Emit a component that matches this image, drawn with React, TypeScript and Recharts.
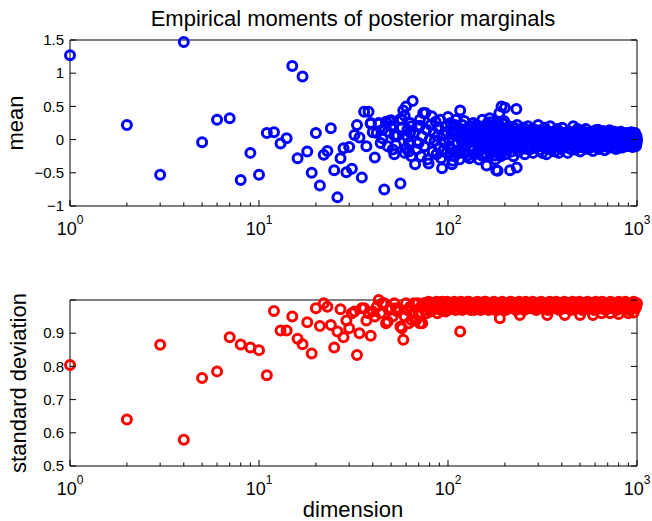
import React from "react";
import { ScatterChart, Scatter, XAxis, YAxis } from "recharts";

const FONT = "'Liberation Sans', Arial, sans-serif";
const BLUE = "#0000ff";
const RED = "#ff0000";

// x tick positions (log axis, majors + minors)
const xTicks = [
  1, 2, 3, 4, 5, 6, 7, 8, 9, 10, 20, 30, 40, 50, 60, 70, 80, 90, 100, 200, 300,
  400, 500, 600, 700, 800, 900, 1000,
];
const meanTicks = [-1, -0.5, 0, 0.5, 1, 1.5];
const sdTicks = [0.5, 0.6, 0.7, 0.8, 0.9, 1.0];

// [dimension, mean] — sparse low dims
const meanSparse: [number, number][] = [
  [1, 1.27], [2, 0.22], [3, -0.53], [4, 1.47], [5, -0.04], [6, 0.3], [7, 0.32],
  [8, -0.61], [9, -0.2], [10, -0.53], [11, 0.1], [12, 0.11], [13, -0.06], [14, 0.02],
  [15, 1.11], [16, -0.28], [17, 0.95], [18, -0.18], [19, -0.5], [20, 0.1], [21, -0.69],
  [22, -0.23], [23, -0.17], [24, 0.17], [25, -0.46], [26, -0.87], [27, -0.28],
  [28, -0.13], [29, -0.49], [30, -0.11], [31, -0.44], [32, 0.07], [33, 0.22], [34, 0.03],
  [35, -0.57], [36, 0.42], [37, -0.1], [38, 0.42], [39, 0.25], [40, 0.11], [41, -0.27],
  [42, 0.1], [43, 0.25], [44, -0.05], [45, 0.15], [46, -0.75], [47, 0.27], [48, -0.1],
  [49, 0.28], [50, 0.2], [51, -0.15], [52, -0.22], [53, 0.05], [54, 0.06], [56, -0.66],
  [57, 0.3], [58, 0.44], [59, -0.2], [60, 0.5], [61, 0.15], [62, -0.05], [63, 0.25],
  [64, -0.25], [65, 0.58],
];

// dense cloud, higher dims (estimated)
const meanCloud: [number, number][] = [
  [39, 0.24], [43, 0.24], [47, 0.26], [50, 0.29], [56, 0.31], [59, 0.36], [52, 0.06],
  [63, 0.11], [71, 0.21], [63, -0.07], [60, -0.13], [45, 0.02], [48, 0.12], [53, -0.08],
  [57, 0.18], [61, 0.04], [64, 0.2], [62, -0.18],
  [66, 0.1], [67, -0.37], [68, -0.15], [69, 0.2], [70, -0.05], [71, 0.3], [72, -0.25],
  [73, 0.05], [74, 0.4], [75, -0.1], [76, 0.4], [77, 0.15], [78, -0.3], [79, -0.36],
  [80, 0.0], [81, 0.22], [82, 0.35], [83, -0.18], [84, 0.1], [85, -0.02], [86, 0.27],
  [87, -0.22], [88, 0.05], [89, 0.18], [90, -0.12], [91, 0.3], [92, -0.28], [93, -0.43],
  [94, 0.08], [95, -0.15], [96, -0.05], [97, 0.2], [98, -0.2], [99, 0.12], [100, 0.34],
  [101, 0.0], [102, -0.1], [103, 0.25], [104, -0.15], [105, -0.37], [106, -0.32],
  [107, 0.1], [108, -0.25], [109, 0.15], [110, 0.3], [111, -0.18], [112, -0.05],
  [113, 0.18], [114, 0.04], [115, -0.3], [116, 0.44], [117, 0.05], [118, -0.12],
  [119, 0.22], [120, -0.12], [121, 0.1], [122, 0.28], [123, -0.06], [124, -0.2],
  [125, 0.16], [126, 0.02], [127, -0.24], [128, 0.15], [130, -0.28], [131, 0.2],
  [132, 0.08], [133, -0.14], [134, -0.1], [135, 0.0], [136, 0.25], [137, 0.12],
  [138, -0.22], [139, -0.04], [140, 0.12], [141, 0.22], [142, -0.02], [143, -0.18],
  [144, 0.2], [145, 0.06], [146, -0.3], [147, -0.1], [148, 0.05], [149, 0.16],
  [150, -0.15], [151, -0.24], [152, 0.3], [154, 0.1], [155, -0.08], [156, -0.2],
  [157, 0.18], [158, 0.02], [159, -0.25], [160, -0.39], [161, 0.24], [162, 0.1],
  [163, -0.04], [164, -0.12], [165, 0.14], [166, 0.32], [167, 0.26], [168, -0.18],
  [170, -0.2], [171, 0.06], [172, 0.0], [174, -0.1], [175, 0.15], [176, 0.2],
  [177, -0.24], [178, -0.3], [179, 0.1], [180, -0.46], [181, 0.08], [182, -0.14],
  [183, -0.47], [184, -0.05], [185, 0.18], [186, 0.22], [187, 0.4], [188, -0.2],
  [189, -0.18], [190, 0.04], [191, 0.14], [192, 0.5], [193, -0.08], [194, 0.12],
  [195, -0.1], [196, 0.24], [197, 0.0], [198, 0.28], [199, -0.16], [200, 0.48],
  [201, -0.22], [203, 0.05], [205, 0.16], [206, -0.15], [208, -0.02], [210, 0.2],
  [212, 0.08], [213, -0.46], [215, -0.05], [217, -0.18], [218, 0.12], [220, 0.02],
  [222, -0.25], [224, 0.18], [226, 0.0], [228, -0.1], [230, 0.46], [231, -0.42],
  [232, 0.22], [234, 0.06], [236, -0.18], [238, 0.14], [240, 0.1], [242, -0.12],
  [245, -0.08], [247, 0.04], [250, 0.18], [252, -0.02], [255, -0.22], [257, 0.12],
  [260, 0.03], [262, -0.14], [265, 0.2], [268, 0.08], [270, -0.12], [273, -0.03],
  [276, 0.08], [279, 0.16], [282, -0.2], [285, 0.0], [288, 0.15], [291, -0.1],
  [294, -0.02], [297, 0.1], [300, 0.22], [303, -0.04], [306, -0.16], [309, 0.14],
  [312, 0.06], [315, -0.2], [318, -0.1], [321, 0.02], [325, 0.18], [328, 0.1],
  [332, -0.22], [336, -0.06], [340, 0.0], [344, 0.12], [347, 0.2], [351, -0.02],
  [355, -0.14], [358, 0.06], [362, 0.1], [366, -0.18], [370, -0.05], [374, 0.04],
  [378, 0.16], [382, -0.08], [386, -0.2], [390, 0.12], [394, 0.04], [398, -0.12],
  [402, 0.18], [406, -0.02], [410, -0.12], [415, 0.1], [420, 0.06], [425, -0.08],
  [430, -0.2], [435, 0.02], [440, 0.12], [445, -0.14], [450, -0.04], [455, 0.08],
  [460, 0.2], [465, -0.1], [470, -0.15], [475, 0.04], [480, 0.02], [485, 0.16],
  [490, 0.14], [495, -0.06], [500, -0.18], [506, 0.1], [512, 0.08], [518, -0.12],
  [524, -0.06], [530, 0.04], [536, 0.16], [542, -0.02], [548, -0.14], [554, 0.08],
  [560, 0.0], [566, -0.08], [572, 0.12], [578, 0.04], [585, -0.17], [591, -0.04],
  [598, 0.05], [604, 0.14], [610, -0.08], [616, 0.02], [622, 0.15], [628, -0.14],
  [635, -0.12], [641, 0.06], [648, 0.02], [654, -0.06], [660, 0.13], [667, 0.0],
  [674, -0.16], [681, -0.04], [688, 0.07], [695, 0.12], [702, -0.05], [709, -0.12],
  [716, 0.14], [723, 0.02], [730, -0.12], [737, 0.08], [745, 0.0], [752, -0.08],
  [760, 0.12], [767, 0.04], [775, -0.14], [782, -0.02], [790, 0.05], [797, 0.1],
  [805, -0.06], [812, -0.12], [820, 0.12], [828, 0.0], [836, -0.12], [844, 0.06],
  [852, 0.02], [860, -0.06], [868, 0.1], [876, 0.04], [884, -0.1], [892, -0.02],
  [900, 0.06], [908, 0.1], [916, -0.04], [924, -0.1], [932, 0.11], [940, 0.0],
  [948, -0.11], [956, 0.06], [964, 0.03], [972, -0.05], [980, 0.08], [985, -0.1],
  [990, -0.08], [995, 0.05], [1000, 0.0],
];

// extra points inside the band
const meanFill: [number, number][] = [
  [105, 0.08], [111, 0.12], [118, -0.02], [125, -0.08], [129, 0.0], [137, -0.15],
  [145, -0.05], [153, 0.0], [162, -0.06], [169, 0.08], [177, 0.0], [185, 0.08],
  [194, -0.04], [204, 0.0], [211, -0.08], [219, 0.06], [227, 0.1], [235, -0.06],
  [244, 0.0], [253, 0.08], [263, -0.06], [272, 0.12], [281, 0.0], [292, 0.04],
  [302, -0.1], [313, 0.0], [323, -0.05], [334, 0.06], [345, -0.1], [357, 0.0],
  [368, 0.08], [380, -0.02], [392, -0.06], [404, 0.04], [417, -0.04], [428, 0.0],
  [442, 0.06], [457, -0.08], [472, 0.08], [487, -0.02], [503, 0.02], [520, -0.1],
  [538, 0.08], [555, -0.04], [575, 0.0], [594, 0.08], [613, -0.02], [632, 0.06],
  [652, -0.1], [672, 0.04], [692, -0.08], [713, 0.04], [735, -0.04], [757, 0.06],
  [780, 0.0], [803, -0.04], [826, 0.06], [850, -0.08], [875, -0.02], [898, 0.0],
  [920, 0.02], [945, 0.06], [968, -0.06], [992, 0.02],
  [103, -0.2], [109, 0.22], [116, -0.2], [123, 0.15], [131, 0.1], [138, 0.06],
  [146, 0.2], [154, -0.25], [161, 0.02], [169, -0.1], [176, -0.14], [183, 0.25],
  [190, -0.25], [197, 0.16],
  [207, 0.12], [214, -0.12], [221, 0.04], [229, -0.03], [237, 0.14], [246, -0.12],
  [256, 0.04], [266, -0.02], [274, -0.14], [284, 0.12], [296, 0.03], [307, -0.05],
  [317, 0.12], [330, 0.02], [338, -0.14], [349, 0.08], [361, -0.03], [373, 0.12],
  [384, 0.02], [396, -0.14], [408, 0.1], [419, -0.08], [432, 0.12], [447, 0.02],
  [462, -0.12], [478, 0.1], [492, 0.04], [508, -0.04], [523, 0.12], [540, -0.1],
  [557, 0.1], [568, -0.12], [582, 0.06], [600, -0.1], [618, 0.1], [638, -0.04],
  [657, 0.08], [677, -0.1], [698, 0.1], [719, -0.02], [741, -0.1], [763, 0.08],
  [786, -0.08], [808, 0.02], [832, 0.08], [856, -0.04], [880, 0.06], [904, -0.08],
  [928, 0.04], [952, -0.02], [976, 0.1], [997, -0.04],
];

// [dimension, standard deviation]
const sdSparse: [number, number][] = [
  [1, 0.804], [2, 0.64], [3, 0.865], [4, 0.579], [5, 0.765], [6, 0.785], [7, 0.888],
  [8, 0.866], [9, 0.857], [10, 0.849], [11, 0.773], [12, 0.967], [13, 0.908],
  [14, 0.908], [15, 0.95], [16, 0.883], [17, 0.867], [18, 0.933], [19, 0.839],
  [20, 0.975], [21, 0.922], [22, 0.99], [23, 0.98], [24, 0.925], [25, 0.857],
  [26, 0.905], [27, 0.972], [28, 0.888], [29, 0.938], [30, 0.915], [31, 0.96],
  [32, 0.965], [33, 0.834], [34, 0.9], [35, 0.975], [36, 0.975], [37, 0.938],
  [38, 0.96], [39, 0.892], [40, 0.965], [43, 1.0], [45, 0.99], [48, 0.935], [50, 0.975],
  [54, 0.965], [56, 0.92], [58, 0.88], [64, 0.94], [71, 0.93], [116, 0.905], [188, 0.945],
];

const sdCloud: [number, number][] = [
  [41, 0.95], [42, 0.98], [44, 0.96], [46, 0.99], [47, 0.93], [49, 0.97], [51, 0.95],
  [52, 0.99], [53, 0.975], [55, 0.97], [57, 0.915], [59, 0.95], [60, 0.99], [61, 0.97],
  [62, 0.93], [63, 0.98], [65, 0.96], [66, 0.99], [67, 0.94], [68, 0.94], [69, 0.99],
  [70, 0.96], [72, 0.98], [73, 0.93], [74, 0.99], [75, 0.97], [76, 0.99], [77, 0.96],
  [78, 0.98], [79, 0.995], [80, 0.99], [81, 0.965], [82, 0.97], [83, 0.985], [84, 0.99],
  [85, 0.975], [86, 0.98], [87, 0.995], [88, 0.96], [89, 0.98], [90, 0.99], [91, 0.97],
  [92, 0.98], [93, 0.995], [94, 0.97], [95, 0.985], [96, 0.99], [97, 0.965], [98, 0.98],
  [99, 0.995], [100, 0.97],
  [102, 0.99], [104, 0.975], [106, 0.98], [108, 0.995], [110, 0.97], [112, 0.99],
  [114, 0.98], [117, 0.995], [119, 0.97], [121, 0.985], [124, 0.99], [126, 0.975],
  [129, 0.995], [131, 0.98], [134, 0.99], [137, 0.97], [140, 0.985], [143, 0.995],
  [146, 0.98], [149, 0.97], [152, 0.99], [155, 0.975], [158, 0.995], [161, 0.985],
  [164, 0.97], [168, 0.99], [171, 0.98], [175, 0.995], [178, 0.97], [182, 0.985],
  [186, 0.99], [190, 0.975], [194, 0.995], [198, 0.98], [202, 0.97], [206, 0.99],
  [210, 0.985], [215, 0.995], [219, 0.975], [224, 0.99], [229, 0.97], [234, 0.985],
  [238, 0.995], [243, 0.98], [248, 0.99], [253, 0.97], [258, 0.995], [264, 0.98],
  [270, 0.99], [275, 0.975], [281, 0.995], [287, 0.985], [293, 0.97], [299, 0.99],
  [305, 0.98], [311, 0.995], [318, 0.975], [324, 0.99], [331, 0.985], [338, 0.97],
  [345, 0.995], [352, 0.98], [359, 0.99], [366, 0.975], [374, 0.995], [381, 0.985],
  [389, 0.97], [397, 0.99], [405, 0.98], [413, 0.995], [422, 0.975], [430, 0.99],
  [439, 0.985], [448, 0.97], [457, 0.995], [466, 0.98], [476, 0.99], [485, 0.975],
  [495, 0.995], [505, 0.985], [515, 0.97], [526, 0.99], [536, 0.98], [547, 0.995],
  [558, 0.975], [570, 0.99], [581, 0.985], [593, 0.97], [605, 0.995], [617, 0.98],
  [630, 0.99], [642, 0.975], [655, 0.995], [669, 0.985], [682, 0.97], [696, 0.99],
  [710, 0.98], [725, 0.995], [739, 0.975], [754, 0.99], [770, 0.985], [785, 0.97],
  [801, 0.995], [818, 0.98], [834, 0.99], [851, 0.975], [868, 0.995], [886, 0.985],
  [904, 0.97], [922, 0.99], [941, 0.98], [960, 0.995], [980, 0.975], [1000, 0.99],
  [240, 0.955], [335, 0.955], [415, 0.955], [500, 0.955], [585, 0.955], [650, 0.96],
  [720, 0.96], [800, 0.958], [900, 0.96], [960, 0.962],
];

const sdFill: [number, number][] = [
  [101, 0.985], [107, 0.99], [113, 0.985], [118, 0.98], [123, 0.975], [128, 0.985],
  [133, 0.98], [139, 0.99], [145, 0.975], [151, 0.985], [157, 0.98], [163, 0.99],
  [170, 0.985], [177, 0.98], [184, 0.975], [192, 0.985], [200, 0.99], [208, 0.975],
  [217, 0.98], [226, 0.975], [236, 0.975], [246, 0.985], [256, 0.98], [267, 0.985],
  [278, 0.99], [290, 0.98], [302, 0.975], [315, 0.985], [328, 0.975], [342, 0.985],
  [356, 0.975], [370, 0.985], [386, 0.98], [402, 0.975], [418, 0.985], [435, 0.98],
  [453, 0.985], [472, 0.975], [490, 0.985], [510, 0.98], [531, 0.975], [552, 0.985],
  [575, 0.98], [598, 0.985], [622, 0.975], [648, 0.985], [675, 0.98], [702, 0.975],
  [731, 0.985], [761, 0.98], [792, 0.985], [825, 0.975], [858, 0.98], [893, 0.975],
  [930, 0.985], [968, 0.98],
  [104, 0.99], [110, 0.98], [116, 0.99], [122, 0.98], [127, 0.995], [132, 0.97],
  [138, 0.985], [144, 0.99], [150, 0.98], [156, 0.995], [162, 0.975], [168, 0.985],
  [174, 0.99], [181, 0.975], [188, 0.99], [196, 0.985], [204, 0.98], [212, 0.99],
  [221, 0.985], [231, 0.99], [241, 0.98], [251, 0.99], [261, 0.975], [272, 0.99],
  [284, 0.975], [296, 0.985], [308, 0.99], [321, 0.98], [335, 0.99], [349, 0.985],
  [363, 0.99], [378, 0.975], [394, 0.985], [410, 0.99], [427, 0.985], [444, 0.99],
  [462, 0.975], [481, 0.98], [500, 0.99], [520, 0.985], [541, 0.99], [563, 0.975],
  [586, 0.99], [610, 0.985], [635, 0.975], [661, 0.99], [688, 0.985], [716, 0.99],
  [745, 0.975], [776, 0.99], [808, 0.975], [841, 0.985], [876, 0.99], [912, 0.98],
  [950, 0.99], [990, 0.98],
];

const toRows = (pts: [number, number][]) => pts.map(([d, v]) => ({ d, v }));
const meanData = toRows([...meanSparse, ...meanCloud, ...meanFill]);
const sdData = toRows([...sdSparse, ...sdCloud, ...sdFill]);

const isMajor = (v: number) => {
  const l = Math.log10(v);
  return Math.abs(l - Math.round(l)) < 1e-6;
};

const BottomTick = (props: any) => {
  const { x, y, payload } = props;
  const major = isMajor(payload.value);
  return (
    <g>
      <line x1={x} y1={y} x2={x} y2={y - (major ? 6 : 3.5)} stroke="#000" />
      {major && (
        <text x={x} y={y + 29} textAnchor="middle" fontSize={18} fontFamily={FONT} fill="#000">
          10
          <tspan fontSize={12} dy={-11}>
            {Math.round(Math.log10(payload.value))}
          </tspan>
        </text>
      )}
    </g>
  );
};

const TopTick = (props: any) => {
  const { x, y, payload } = props;
  const major = isMajor(payload.value);
  return <line x1={x} y1={y} x2={x} y2={y + (major ? 6 : 3.5)} stroke="#000" />;
};

const LeftTick = (props: any) => {
  const { x, y, payload, showLabel } = props;
  const v = payload.value as number;
  const label = v < 0 ? "\u2212" + String(-v) : String(v);
  return (
    <g>
      <line x1={x} y1={y} x2={x + 6} y2={y} stroke="#000" />
      {showLabel(v) && (
        <text x={x - 6} y={y} dy="0.35em" textAnchor="end" fontSize={15} fontFamily={FONT} fill="#000">
          {label}
        </text>
      )}
    </g>
  );
};

const RightTick = (props: any) => {
  const { x, y } = props;
  return <line x1={x} y1={y} x2={x - 6} y2={y} stroke="#000" />;
};

const ring = (color: string) => (p: any) => (
  <circle cx={p.cx} cy={p.cy} r={4.5} fill="none" stroke={color} strokeWidth={3} />
);

interface PanelProps {
  data: { d: number; v: number }[];
  color: string;
  height: number;
  top: number;
  axisTop: number;
  axisBottom: number;
  yDomain: [number, number];
  yTicks: number[];
  showLabel: (v: number) => boolean;
}

const Panel = ({ data, color, height, top, axisTop, axisBottom, yDomain, yTicks, showLabel }: PanelProps) => (
  <div style={{ position: "absolute", left: 0, top }}>
    <ScatterChart width={652} height={height} margin={{ top: 0, right: 0, bottom: 0, left: 0 }}>
      <XAxis
        xAxisId="b"
        dataKey="d"
        type="number"
        scale="log"
        domain={[1, 1000]}
        ticks={xTicks}
        interval={0}
        height={axisBottom}
        tickSize={0}
        tickMargin={0}
        tickLine={false}
        axisLine={{ stroke: "#000" }}
        tick={<BottomTick />}
      />
      <XAxis
        xAxisId="t"
        orientation="top"
        type="number"
        scale="log"
        domain={[1, 1000]}
        allowDataOverflow
        ticks={xTicks}
        interval={0}
        height={axisTop}
        tickSize={0}
        tickMargin={0}
        tickLine={false}
        axisLine={{ stroke: "#000" }}
        tick={<TopTick />}
      />
      <YAxis
        yAxisId="l"
        dataKey="v"
        type="number"
        domain={yDomain}
        ticks={yTicks}
        interval={0}
        width={70}
        tickSize={0}
        tickMargin={0}
        tickLine={false}
        axisLine={{ stroke: "#000" }}
        tick={<LeftTick showLabel={showLabel} />}
      />
      <YAxis
        yAxisId="r"
        orientation="right"
        type="number"
        domain={yDomain}
        allowDataOverflow
        ticks={yTicks}
        interval={0}
        width={15}
        tickSize={0}
        tickMargin={0}
        tickLine={false}
        axisLine={{ stroke: "#000" }}
        tick={<RightTick />}
      />
      <Scatter
        xAxisId="b"
        yAxisId="l"
        data={data}
        isAnimationActive={false}
        shape={ring(color)}
      />
    </ScatterChart>
  </div>
);

export default function App() {
  return (
    <div
      style={{
        position: "absolute",
        left: 0,
        top: 0,
        width: 652,
        height: 521,
        background: "#fff",
        overflow: "hidden",
      }}
    >
      <Panel
        data={meanData}
        color={BLUE}
        height={250}
        top={0}
        axisTop={40}
        axisBottom={44}
        yDomain={[-1, 1.5]}
        yTicks={meanTicks}
        showLabel={() => true}
      />
      <Panel
        data={sdData}
        color={RED}
        height={271}
        top={250}
        axisTop={50}
        axisBottom={55}
        yDomain={[0.5, 1.0]}
        yTicks={sdTicks}
        showLabel={(v) => v < 0.95}
      />
      <svg
        width={652}
        height={521}
        style={{ position: "absolute", left: 0, top: 0, pointerEvents: "none" }}
        fontFamily={FONT}
        fill="#000"
      >
        <text x={353} y={26} textAnchor="middle" fontSize={22}>
          Empirical moments of posterior marginals
        </text>
        <text x={23} y={123} textAnchor="middle" fontSize={22} transform="rotate(-90 23 123)">
          mean
        </text>
        <text x={26} y={383} textAnchor="middle" fontSize={22} transform="rotate(-90 26 383)">
          standard deviation
        </text>
        <text x={353} y={517} textAnchor="middle" fontSize={22}>
          dimension
        </text>
      </svg>
    </div>
  );
}
